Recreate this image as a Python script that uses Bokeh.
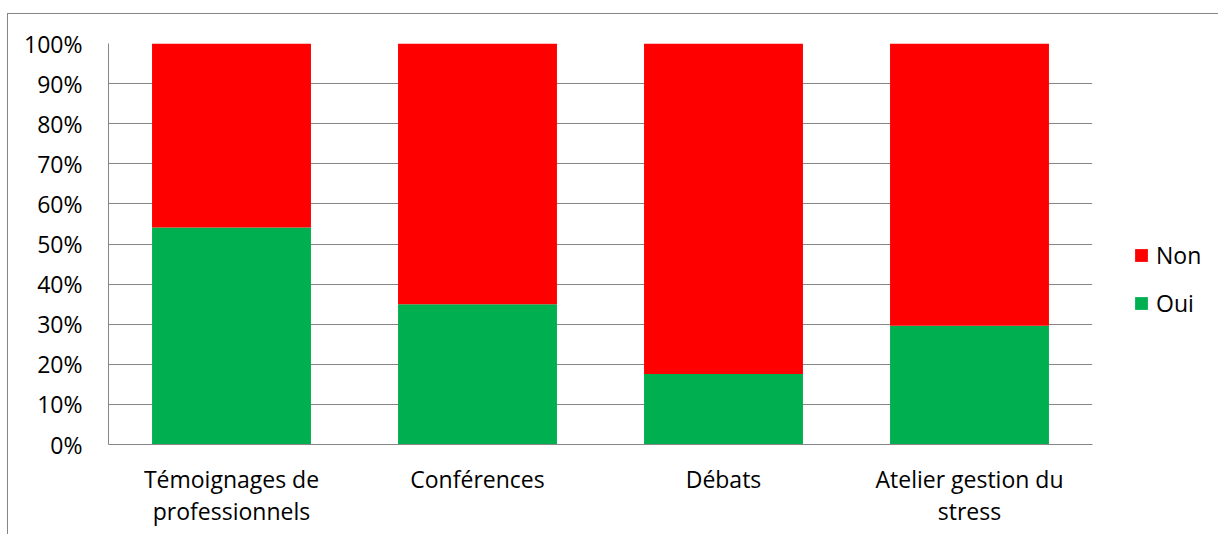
from bokeh.plotting import figure
from bokeh.models import FactorRange, NumeralTickFormatter, Legend, LegendItem, FixedTicker
from bokeh.embed import file_html
from bokeh.resources import INLINE

categories = ["Témoignages de\nprofessionnels", "Conférences", "Débats", "Atelier gestion du\nstress"]
oui = [0.541, 0.35, 0.176, 0.296]
non = [1 - v for v in oui]
series = ["oui", "non"]
colors = ["#00B050", "#FF0000"]
labels = ["Oui", "Non"]
y_ticks = [i / 10 for i in range(11)]

FONT = "Open Sans"
FS = "23px"

p = figure(x_range=FactorRange(*categories, range_padding=0), y_range=(0, 1),
           frame_width=984, frame_height=401,
           min_border_left=100, min_border_top=29, min_border_right=125, min_border_bottom=90,
           output_backend="svg", toolbar_location=None)
p.styles = {"border-left": "1px solid #868686", "border-top": "1px solid #868686",
            "margin-top": "13px", "margin-left": "7px"}

src = dict(cat=categories, oui=oui, non=non)
r = p.vbar_stack(series, x="cat", width=0.646, color=colors, line_color=None, source=src)

p.outline_line_color = None
p.xgrid.grid_line_color = None
p.ygrid.grid_line_color = "#868686"
p.ygrid.grid_line_width = 1
p.yaxis.ticker = FixedTicker(ticks=y_ticks)
p.yaxis.formatter = NumeralTickFormatter(format="0%")

for ax in (p.xaxis, p.yaxis):
    ax.axis_line_color = "#868686"
    ax.major_tick_line_color = None
    ax.minor_tick_line_color = None
    ax.major_label_text_font = FONT
    ax.major_label_text_font_size = FS
    ax.major_label_text_color = "#000000"
p.yaxis.major_label_standoff = 20
p.xaxis.major_label_standoff = 12
p.xaxis.major_label_text_line_height = 1.0

legend = Legend(items=[LegendItem(label=labels[1], renderers=[r[1]]),
                       LegendItem(label=labels[0], renderers=[r[0]])],
                location=(41, 125), orientation="vertical",
                glyph_width=16, glyph_height=16, label_standoff=7,
                label_height=30, spacing=16,
                padding=0, margin=0, border_line_color=None, background_fill_alpha=0,
                label_text_font=FONT, label_text_font_size=FS, label_text_color="#000000")
p.add_layout(legend, "right")

open("out.html", "w").write(file_html(p, INLINE))
